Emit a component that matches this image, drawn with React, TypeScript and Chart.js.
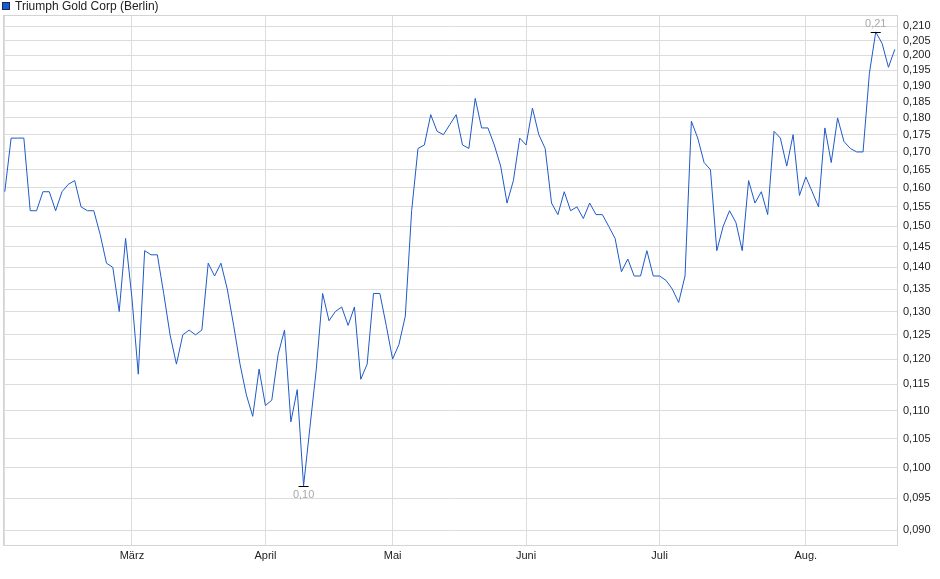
import { Chart, registerables } from "chart.js";
import { useEffect, useRef } from "react";

Chart.register(...registerables);

// Schlusskurse je Handelstag (03.02. - 21.08.)
const prices = [
    0.159, 0.174, 0.174, 0.174, 0.154, 0.154, 0.159, 0.159, 0.154, 0.159,
    0.161, 0.162, 0.155, 0.154, 0.154, 0.148, 0.141, 0.140, 0.130, 0.147,
    0.133, 0.117, 0.144, 0.143, 0.143, 0.134, 0.125, 0.119, 0.125, 0.126,
    0.125, 0.126, 0.141, 0.138, 0.141, 0.135, 0.127, 0.119, 0.113, 0.109,
    0.118, 0.111, 0.112, 0.121, 0.126, 0.108, 0.114, 0.097, 0.107, 0.118,
    0.134, 0.128, 0.130, 0.131, 0.127, 0.131, 0.116, 0.119, 0.134, 0.134,
    0.127, 0.120, 0.123, 0.129, 0.154, 0.171, 0.172, 0.181, 0.176, 0.175,
    0.178, 0.181, 0.172, 0.171, 0.186, 0.177, 0.177, 0.172, 0.166, 0.156,
    0.162, 0.174, 0.172, 0.183, 0.175, 0.171, 0.156, 0.153, 0.159, 0.154,
    0.155, 0.152, 0.156, 0.153, 0.153, 0.150, 0.147, 0.139, 0.142, 0.138,
    0.138, 0.144, 0.138, 0.138, 0.137, 0.135, 0.132, 0.138, 0.179, 0.174,
    0.167, 0.165, 0.144, 0.150, 0.154, 0.151, 0.144, 0.162, 0.156, 0.159,
    0.153, 0.176, 0.174, 0.166, 0.175, 0.158, 0.163, 0.159, 0.155, 0.177,
    0.167, 0.180, 0.173, 0.171, 0.170, 0.170, 0.194, 0.208, 0.204, 0.196,
    0.202,
];

// erster Handelstag jedes Monats (Index in prices)
const monthIndex = [0, 20, 41, 61, 82, 103, 126];
const monthLabels = ["", "März", "April", "Mai", "Juni", "Juli", "Aug."];

const yTicks = [
    0.090, 0.095, 0.100, 0.105, 0.110, 0.115, 0.120, 0.125, 0.130, 0.135,
    0.140, 0.145, 0.150, 0.155, 0.160, 0.165, 0.170, 0.175, 0.180, 0.185,
    0.190, 0.195, 0.200, 0.205, 0.210,
];

const seriesName = "Triumph Gold Corp (Berlin)";
const lineColor = "#1e5ac8";
const font = "Liberation Sans, Arial, sans-serif";

const fmt = (v: number, d: number) => v.toFixed(d).replace(".", ",");

// Rahmen, Legende und Min/Max-Markierung
const decorations = {
    id: "decorations",
    beforeDatasetsDraw(chart: any) {
        const { ctx, chartArea: a } = chart;
        ctx.save();
        ctx.strokeStyle = "#d4d4d4";
        ctx.lineWidth = 1;
        ctx.strokeRect(a.left + 0.5, a.top + 0.5, a.right - a.left - 1, a.bottom - a.top);
        ctx.restore();
    },
    afterDatasetsDraw(chart: any) {
        const { ctx } = chart;
        const meta = chart.getDatasetMeta(0);
        let iMin = 0;
        let iMax = 0;
        prices.forEach((v, i) => {
            if (v < prices[iMin]) iMin = i;
            if (v > prices[iMax]) iMax = i;
        });
        ctx.save();
        ctx.font = `11px ${font}`;
        ctx.textAlign = "center";
        ctx.fillStyle = "#a8a8a8";
        ctx.strokeStyle = "#000";
        ctx.lineWidth = 1;
        const mark = (i: number, above: boolean) => {
            const p = meta.data[i];
            const y = Math.round(p.y) + 0.5;
            ctx.beginPath();
            ctx.moveTo(p.x - 5, y);
            ctx.lineTo(p.x + 5, y);
            ctx.stroke();
            ctx.textBaseline = above ? "bottom" : "top";
            ctx.fillText(fmt(prices[i], 2), p.x, above ? y - 3 : y + 3);
        };
        mark(iMax, true);
        mark(iMin, false);

        // Legende
        ctx.fillStyle = lineColor;
        ctx.fillRect(2, 2, 8, 8);
        ctx.strokeStyle = "#0a2a6a";
        ctx.strokeRect(2.5, 2.5, 7, 7);
        ctx.fillStyle = "#222";
        ctx.font = `12px ${font}`;
        ctx.textAlign = "left";
        ctx.textBaseline = "middle";
        ctx.fillText(seriesName, 15, 7);
        ctx.restore();
    },
};

export function KursChart() {
    const chartRef = useRef<Chart | null>(null);
    const canvasRef = useRef<HTMLCanvasElement | null>(null);

    useEffect(() => {
        document.body.style.margin = "0";
        chartRef.current = new Chart(canvasRef.current!, {
            type: "line",
            data: {
                datasets: [
                    {
                        label: seriesName,
                        data: prices.map((v, i) => ({ x: i, y: v })),
                        borderColor: lineColor,
                        borderWidth: 1,
                        pointRadius: 0,
                        tension: 0,
                        fill: false,
                    },
                ],
            },
            options: {
                animation: false,
                responsive: false,
                layout: { padding: { top: 15, left: 3, right: 0, bottom: 0 } },
                plugins: {
                    legend: { display: false },
                    tooltip: { enabled: false },
                },
                scales: {
                    x: {
                        type: "linear",
                        min: -0.28,
                        max: 140.5,
                        afterBuildTicks: (scale: any) => {
                            scale.ticks = monthIndex.map(v => ({ value: v }));
                        },
                        afterFit: (scale: any) => {
                            scale.height = 34;
                        },
                        grid: { color: "#dcdcdc", drawTicks: false },
                        border: { display: false },
                        ticks: {
                            autoSkip: false,
                            maxRotation: 0,
                            padding: 4,
                            color: "#222",
                            font: { family: font, size: 11 },
                            callback: (v: any) => monthLabels[monthIndex.indexOf(v)] ?? "",
                        },
                    },
                    y: {
                        type: "logarithmic",
                        position: "right",
                        min: 0.0878,
                        max: 0.214,
                        afterBuildTicks: (scale: any) => {
                            scale.ticks = yTicks.map(v => ({ value: v }));
                        },
                        afterFit: (scale: any) => {
                            scale.width = 42;
                        },
                        grid: { color: "#dcdcdc", drawTicks: false },
                        border: { display: false },
                        ticks: {
                            autoSkip: false,
                            padding: 5,
                            color: "#222",
                            font: { family: font, size: 11 },
                            callback: (v: any) => fmt(Number(v), 3),
                        },
                    },
                },
            },
            plugins: [decorations],
        });

        return () => chartRef.current?.destroy();
    }, []);

    return (
        <div style={{ width: 940, height: 579 }}>
            <canvas ref={canvasRef} width={940} height={579} />
        </div>
    );
}

export default function App() {
    return <KursChart />;
}
